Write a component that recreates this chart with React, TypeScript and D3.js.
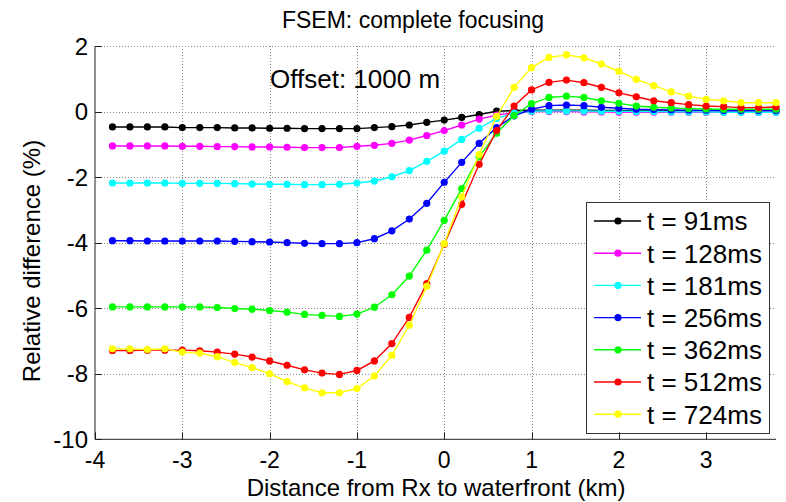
import React from 'react'
import * as d3 from 'd3'

// distance from Rx to waterfront (km)
const distance = [
  -3.8, -3.6, -3.4, -3.2, -3.0, -2.8, -2.6, -2.4, -2.2, -2.0, -1.8, -1.6, -1.4,
  -1.2, -1.0, -0.8, -0.6, -0.4, -0.2, 0.0, 0.2, 0.4, 0.6, 0.8, 1.0, 1.2, 1.4,
  1.6, 1.8, 2.0, 2.2, 2.4, 2.6, 2.8, 3.0, 3.2, 3.4, 3.6, 3.8,
]

const t91 = [
  -0.47, -0.47, -0.47, -0.47, -0.49, -0.49, -0.49, -0.5, -0.5, -0.51, -0.51, -0.52, -0.52,
  -0.52, -0.52, -0.49, -0.46, -0.41, -0.33, -0.26, -0.18, -0.09, 0.01, 0.03, 0.04, 0.04, 0.04,
  0.04, 0.03, 0.03, 0.02, 0.02, 0.02, 0.02, 0.02, 0.02, 0.02, 0.02, 0.02,
]
const t128 = [
  -1.05, -1.05, -1.05, -1.05, -1.06, -1.06, -1.07, -1.07, -1.08, -1.08, -1.09, -1.1, -1.1,
  -1.1, -1.06, -1.03, -0.97, -0.87, -0.73, -0.58, -0.41, -0.23, -0.11, -0.03, 0.0, 0.0, 0.0,
  -0.01, -0.01, -0.02, -0.02, -0.02, -0.02, -0.02, -0.02, -0.02, -0.02, -0.02, -0.02,
]
const t181 = [
  -2.18, -2.18, -2.18, -2.18, -2.19, -2.19, -2.19, -2.2, -2.21, -2.22, -2.22, -2.23, -2.23,
  -2.22, -2.18, -2.12, -1.99, -1.8, -1.52, -1.21, -0.85, -0.51, -0.21, -0.04, 0.01, 0.02, 0.02,
  0.02, 0.01, 0.01, 0.0, 0.0, -0.01, -0.01, -0.01, -0.02, -0.02, -0.02, -0.02,
]
const t256 = [
  -3.94, -3.94, -3.95, -3.95, -3.95, -3.95, -3.95, -3.96, -3.97, -3.98, -4.0, -4.02, -4.03,
  -4.03, -4.0, -3.88, -3.64, -3.28, -2.8, -2.16, -1.55, -0.97, -0.49, -0.13, 0.07, 0.18, 0.2,
  0.18, 0.13, 0.1, 0.07, 0.06, 0.05, 0.04, 0.04, 0.03, 0.03, 0.03, 0.03,
]
const t362 = [
  -5.96, -5.96, -5.96, -5.96, -5.96, -5.96, -5.98, -6.01, -6.03, -6.07, -6.12, -6.19, -6.22,
  -6.25, -6.18, -5.97, -5.59, -5.02, -4.23, -3.32, -2.35, -1.38, -0.66, -0.12, 0.24, 0.43, 0.47,
  0.43, 0.33, 0.25, 0.17, 0.13, 0.11, 0.09, 0.08, 0.07, 0.07, 0.07, 0.07,
]
const t512 = [
  -7.29, -7.29, -7.28, -7.28, -7.28, -7.3, -7.34, -7.4, -7.49, -7.61, -7.74, -7.88, -7.98,
  -8.02, -7.9, -7.61, -7.08, -6.28, -5.25, -4.05, -2.83, -1.61, -0.58, 0.17, 0.66, 0.89, 0.96,
  0.88, 0.74, 0.57, 0.45, 0.33, 0.27, 0.21, 0.17, 0.15, 0.12, 0.12, 0.14,
]
const t724 = [
  -7.24, -7.24, -7.26, -7.24, -7.34, -7.37, -7.48, -7.66, -7.81, -8.0, -8.24, -8.43, -8.58,
  -8.58, -8.45, -8.07, -7.44, -6.52, -5.33, -4.03, -2.6, -1.31, -0.15, 0.74, 1.34, 1.65, 1.73,
  1.64, 1.45, 1.23, 0.98, 0.79, 0.6, 0.47, 0.37, 0.33, 0.27, 0.27, 0.27,
]

const seriesLabels = ['t = 91ms', 't = 128ms', 't = 181ms', 't = 256ms', 't = 362ms', 't = 512ms', 't = 724ms']
const seriesValues = [t91, t128, t181, t256, t362, t512, t724]
const seriesColors = ['#000000', '#ff00ff', '#00ffff', '#0000ff', '#00ff00', '#ff0000', '#ffff00']

const xTicks = [-4, -3, -2, -1, 0, 1, 2, 3]
const yTicks = [-10, -8, -6, -4, -2, 0, 2]

const FONT = 'Arial, "Liberation Sans", Helvetica, sans-serif'

export default function App() {
  const width = 786
  const height = 502
  const plot = { left: 95, right: 776, top: 46, bottom: 439.3 }

  const x = d3.scaleLinear().domain([-4, 3.8]).range([plot.left, plot.right])
  const y = d3.scaleLinear().domain([-10, 2]).range([plot.bottom, plot.top])

  const line = d3.line<number>()
    .x((_, i) => x(distance[i]))
    .y(d => y(d))

  // legend layout
  const leg = { x0: 586, x1: 769, y0: 202, y1: 433, rowY: 221, rowStep: 32.2 }

  return (
    <svg width={width} height={height} style={{ position: 'absolute', left: 0, top: 0, background: '#fff' }}
      fontFamily={FONT}>
      <rect x={0} y={0} width={width} height={height} fill="#fff" />

      {/* grid */}
      <g stroke="#888" strokeWidth={1} strokeDasharray="1,2">
        {xTicks.filter(t => t !== -4).map(t => (
          <line key={'gx' + t} x1={Math.round(x(t)) + 0.5} x2={Math.round(x(t)) + 0.5} y1={plot.top} y2={plot.bottom} />
        ))}
        {yTicks.filter(t => t !== -10).map(t => (
          <line key={'gy' + t} x1={plot.left} x2={plot.right} y1={Math.round(y(t)) + 0.5} y2={Math.round(y(t)) + 0.5} />
        ))}
      </g>

      {/* series */}
      {seriesValues.map((vals, k) => (
        <g key={seriesLabels[k]}>
          <path d={line(vals) || ''} fill="none" stroke={seriesColors[k]} strokeWidth={1.4} />
          {vals.map((v, i) => (
            <circle key={i} cx={x(distance[i])} cy={y(v)} r={3.6} fill={seriesColors[k]} />
          ))}
        </g>
      ))}

      {/* axes */}
      <line x1={plot.left} x2={plot.left} y1={plot.top} y2={plot.bottom} stroke="#222" strokeWidth={1} />
      <line x1={plot.left} x2={plot.right} y1={plot.bottom} y2={plot.bottom} stroke="#222" strokeWidth={1} />

      {/* legend */}
      <rect x={leg.x0 + 0.5} y={leg.y0 + 0.5} width={leg.x1 - leg.x0} height={leg.y1 - leg.y0}
        fill="#fff" stroke="#333" strokeWidth={1} />
      {seriesLabels.map((lab, k) => {
        const ry = leg.rowY + k * leg.rowStep
        return (
          <g key={'leg' + k}>
            <line x1={594} x2={641} y1={ry} y2={ry} stroke={seriesColors[k]} strokeWidth={1.4} />
            <circle cx={618} cy={ry} r={3.6} fill={seriesColors[k]} />
            <text x={647} y={ry} dy="0.36em" fontSize={26} fill="#000">{lab}</text>
          </g>
        )
      })}

      {/* ticks */}
      <g stroke="#222" strokeWidth={1}>
        {xTicks.map(t => (
          <line key={'tx' + t} x1={Math.round(x(t)) + 0.5} x2={Math.round(x(t)) + 0.5} y1={plot.bottom} y2={plot.bottom - 7} />
        ))}
        {yTicks.map(t => (
          <line key={'ty' + t} x1={plot.left} x2={plot.left + 7} y1={Math.round(y(t)) + 0.5} y2={Math.round(y(t)) + 0.5} />
        ))}
      </g>

      {/* tick labels */}
      {xTicks.map(t => (
        <text key={'lx' + t} x={x(t)} y={468} textAnchor="middle" fontSize={23} fill="#000">{t}</text>
      ))}
      {yTicks.map(t => (
        <text key={'ly' + t} x={88} y={y(t)} dy="0.36em" textAnchor="end" fontSize={24} fill="#000">{t}</text>
      ))}

      {/* labels */}
      <text x={413} y={28} textAnchor="middle" fontSize={23} fill="#000">FSEM: complete focusing</text>
      <text x={436} y={496} textAnchor="middle" fontSize={24} fill="#000">Distance from Rx to waterfront (km)</text>
      <text transform="translate(40,261) rotate(-90)" textAnchor="middle" fontSize={24} fill="#000">Relative difference (%)</text>
      <text x={270} y={88} fontSize={26} fill="#000">Offset: 1000 m</text>
    </svg>
  )
}
